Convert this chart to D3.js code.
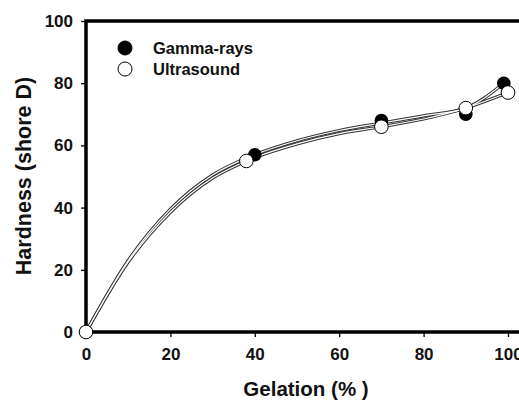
<!DOCTYPE html>
<html>
<head>
<meta charset="utf-8">
<script src="https://cdn.jsdelivr.net/npm/d3@7"></script>
<style>
  body { margin: 0; background: #fff; }
  svg { display: block; font-family: "Liberation Sans", Arial, sans-serif; font-weight: bold; }
</style>
</head>
<body>
<svg id="chart" width="519" height="401"></svg>
<script>
// gelation (%) vs hardness (shore D)
const gammaX = [0, 40, 70, 90, 99];
const gammaY = [0, 57, 68, 70, 80];
const ultraX = [0, 38, 70, 90, 100];
const ultraY = [0, 55, 66, 72, 77];
// smoothed fit curves
const gammaFitX = [0, 10, 20, 30, 40, 50, 60, 70, 80, 90, 99];
const gammaFitY = [0, 23, 39.5, 50.5, 57, 61.5, 64.8, 67.2, 69.5, 72, 80];
const ultraFitX = [0, 10, 20, 30, 38, 50, 60, 70, 80, 90, 100];
const ultraFitY = [0, 22.5, 38.5, 49.5, 55, 60.5, 63.8, 66, 68.5, 72, 77];
const xTicks = [0, 20, 40, 60, 80, 100];
const yTicks = [0, 20, 40, 60, 80, 100];

const svg = d3.select("#chart");
const margin = { top: 21, left: 86, bottom: 69 };
const height = 401;

const x = d3.scaleLinear().domain([0, 100]).range([margin.left, 508]);
const y = d3.scaleLinear().domain([0, 100]).range([height - margin.bottom, margin.top]);

// axes
const xAxis = d3.axisBottom(x).tickValues(xTicks).tickSize(5).tickPadding(11);
const yAxis = d3.axisLeft(y).tickValues(yTicks).tickSize(5).tickPadding(8);

const gx = svg.append("g")
  .attr("transform", `translate(0, ${y(0)})`)
  .call(xAxis);
gx.select(".domain").remove();

const gy = svg.append("g")
  .attr("transform", `translate(${x(0)}, 0)`)
  .call(yAxis);
gy.select(".domain").remove();

svg.selectAll(".tick line").attr("stroke", "#000").attr("stroke-width", 1.3);
svg.selectAll(".tick text")
  .attr("fill", "#111")
  .style("font-size", "17px")
  .style("font-weight", "bold");

// frame: left, bottom, top (right side runs off)
svg.append("path")
  .attr("d", `M519,${y(100)}H${x(0)}V${y(0)}H519`)
  .attr("fill", "none")
  .attr("stroke", "#000")
  .attr("stroke-width", 3.5);

// fit curves drawn as hollow lines
const line = d3.line()
  .x((d) => x(d[0]))
  .y((d) => y(d[1]))
  .curve(d3.curveMonotoneX);

const fits = [[gammaFitX, gammaFitY], [ultraFitX, ultraFitY]]
  .map(([xs, ys]) => xs.map((v, i) => [v, ys[i]]));

svg.append("g").selectAll("path")
  .data(fits)
  .join("path")
  .attr("d", line)
  .attr("fill", "none")
  .attr("stroke", "#333")
  .attr("stroke-width", 3.2);
svg.append("g").selectAll("path")
  .data(fits)
  .join("path")
  .attr("d", line)
  .attr("fill", "none")
  .attr("stroke", "#fff")
  .attr("stroke-width", 1.2);

// markers
svg.append("g").selectAll("circle")
  .data(gammaX.map((v, i) => [v, gammaY[i]]))
  .join("circle")
  .attr("cx", (d) => x(d[0]))
  .attr("cy", (d) => y(d[1]))
  .attr("r", 6.8)
  .attr("fill", "#000");

svg.append("g").selectAll("circle")
  .data(ultraX.map((v, i) => [v, ultraY[i]]))
  .join("circle")
  .attr("cx", (d) => x(d[0]))
  .attr("cy", (d) => y(d[1]))
  .attr("r", 6.8)
  .attr("fill", "#fff")
  .attr("stroke", "#000")
  .attr("stroke-width", 1);

// legend
const legend = [
  { label: "Gamma-rays", fill: "#000" },
  { label: "Ultrasound", fill: "#fff" },
];
const lg = svg.append("g").selectAll("g")
  .data(legend)
  .join("g")
  .attr("transform", (d, i) => `translate(125, ${48 + i * 21})`);
lg.append("circle")
  .attr("r", 7)
  .attr("fill", (d) => d.fill)
  .attr("stroke", "#000")
  .attr("stroke-width", 1);
lg.append("text")
  .attr("x", 28)
  .attr("dy", "0.36em")
  .style("font-size", "16.5px")
  .attr("fill", "#111")
  .text((d) => d.label);

// axis titles
svg.append("text")
  .attr("x", 306)
  .attr("y", 396)
  .attr("text-anchor", "middle")
  .style("font-size", "20.5px")
  .attr("fill", "#111")
  .text("Gelation (% )");

svg.append("text")
  .attr("transform", `translate(31, 176) rotate(-90)`)
  .attr("text-anchor", "middle")
  .style("font-size", "21.5px")
  .attr("fill", "#111")
  .text("Hardness (shore D)");
</script>
</body>
</html>
